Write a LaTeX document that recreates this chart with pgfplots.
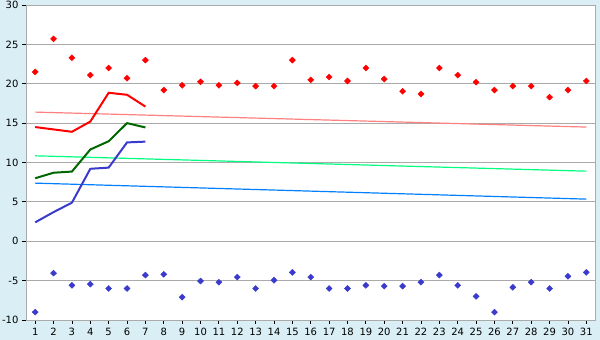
\documentclass[border=0pt]{standalone}
\usepackage{pgfplots}
\pgfplotsset{compat=1.18}
\usepackage{fontspec}
\setmainfont{DejaVu Sans}
\definecolor{bgblue}{HTML}{DAEFF5}
\definecolor{gridgray}{HTML}{AAAAAA}
\definecolor{mred}{HTML}{FF0000}
\definecolor{mgreen}{HTML}{006600}
\definecolor{mblue}{HTML}{3A3ACC}
\definecolor{tpink}{HTML}{FF8080}
\definecolor{tgreen}{HTML}{00FF80}
\definecolor{tblue}{HTML}{0080FF}
\begin{document}
\begin{tikzpicture}
\fill[bgblue] (-26pt,-20pt) rectangle (574pt,320pt);
\useasboundingbox (-26pt,-20pt) rectangle (574pt,320pt);
\begin{axis}[
  at={(0,0)}, anchor=south west,
  scale only axis, width=569.5pt, height=315pt,
  xmin=0.5, xmax=31.5, ymin=-10, ymax=30,
  xtick={1,...,31}, ytick={-10,-5,...,30},
  axis background/.style={fill=white},
  axis line style={gridgray, line width=0.8pt},
  ymajorgrids, major grid style={gridgray, line width=0.8pt},
  tick style={black, line width=0.8pt},
  major tick length=4pt,
  tick align=outside, xtick pos=bottom, ytick pos=left,
  ticklabel style={font=\fontsize{10}{12}\selectfont},
  /pgf/number format/assume math mode=true,
  xticklabel style={yshift=-1pt},
  clip=false,
]
% trend lines
\addplot[tpink, line width=1.2pt] coordinates {(1,16.4) (31,14.5)};
\addplot[tgreen, line width=1.2pt] coordinates {(1,10.85) (31,8.9)};
\addplot[tblue, line width=1.2pt] coordinates {(1,7.38) (31,5.35)};
% lines
\addplot[mred, line width=2pt] coordinates {(1,14.5) (2,14.2) (3,13.9) (4,15.2) (5,18.85) (6,18.6) (7,17.1)};
\addplot[mgreen, line width=2pt] coordinates {(1,8.0) (2,8.7) (3,8.85) (4,11.65) (5,12.7) (6,15.0) (7,14.45)};
\addplot[mblue, line width=2pt] coordinates {(1,2.4) (2,3.7) (3,4.9) (4,9.2) (5,9.35) (6,12.55) (7,12.65)};
% max
\addplot[only marks, mark=diamond*, mark size=3pt, mred, mark options={fill=mred,draw=mred,xscale=1.35}] coordinates {
(1,21.5) (2,25.7) (3,23.3) (4,21.1) (5,22.0) (6,20.7) (7,23.0) (8,19.2) (9,19.8) (10,20.25)
(11,19.8) (12,20.1) (13,19.7) (14,19.7) (15,23.0) (16,20.5) (17,20.85) (18,20.35) (19,22.0) (20,20.6)
(21,19.05) (22,18.7) (23,22.0) (24,21.1) (25,20.2) (26,19.2) (27,19.7) (28,19.7) (29,18.3) (30,19.2) (31,20.35)};
% min
\addplot[only marks, mark=diamond*, mark size=3pt, mblue, mark options={fill=mblue,draw=mblue,xscale=1.35}] coordinates {
(1,-9.0) (2,-4.05) (3,-5.6) (4,-5.45) (5,-6.0) (6,-6.0) (7,-4.3) (8,-4.2) (9,-7.1) (10,-5.05)
(11,-5.2) (12,-4.55) (13,-6.0) (14,-4.95) (15,-3.95) (16,-4.55) (17,-6.0) (18,-6.0) (19,-5.6) (20,-5.7)
(21,-5.7) (22,-5.2) (23,-4.3) (24,-5.6) (25,-7.0) (26,-9.0) (27,-5.85) (28,-5.2) (29,-6.0) (30,-4.45) (31,-3.95)};
\end{axis}
\end{tikzpicture}
\end{document}
